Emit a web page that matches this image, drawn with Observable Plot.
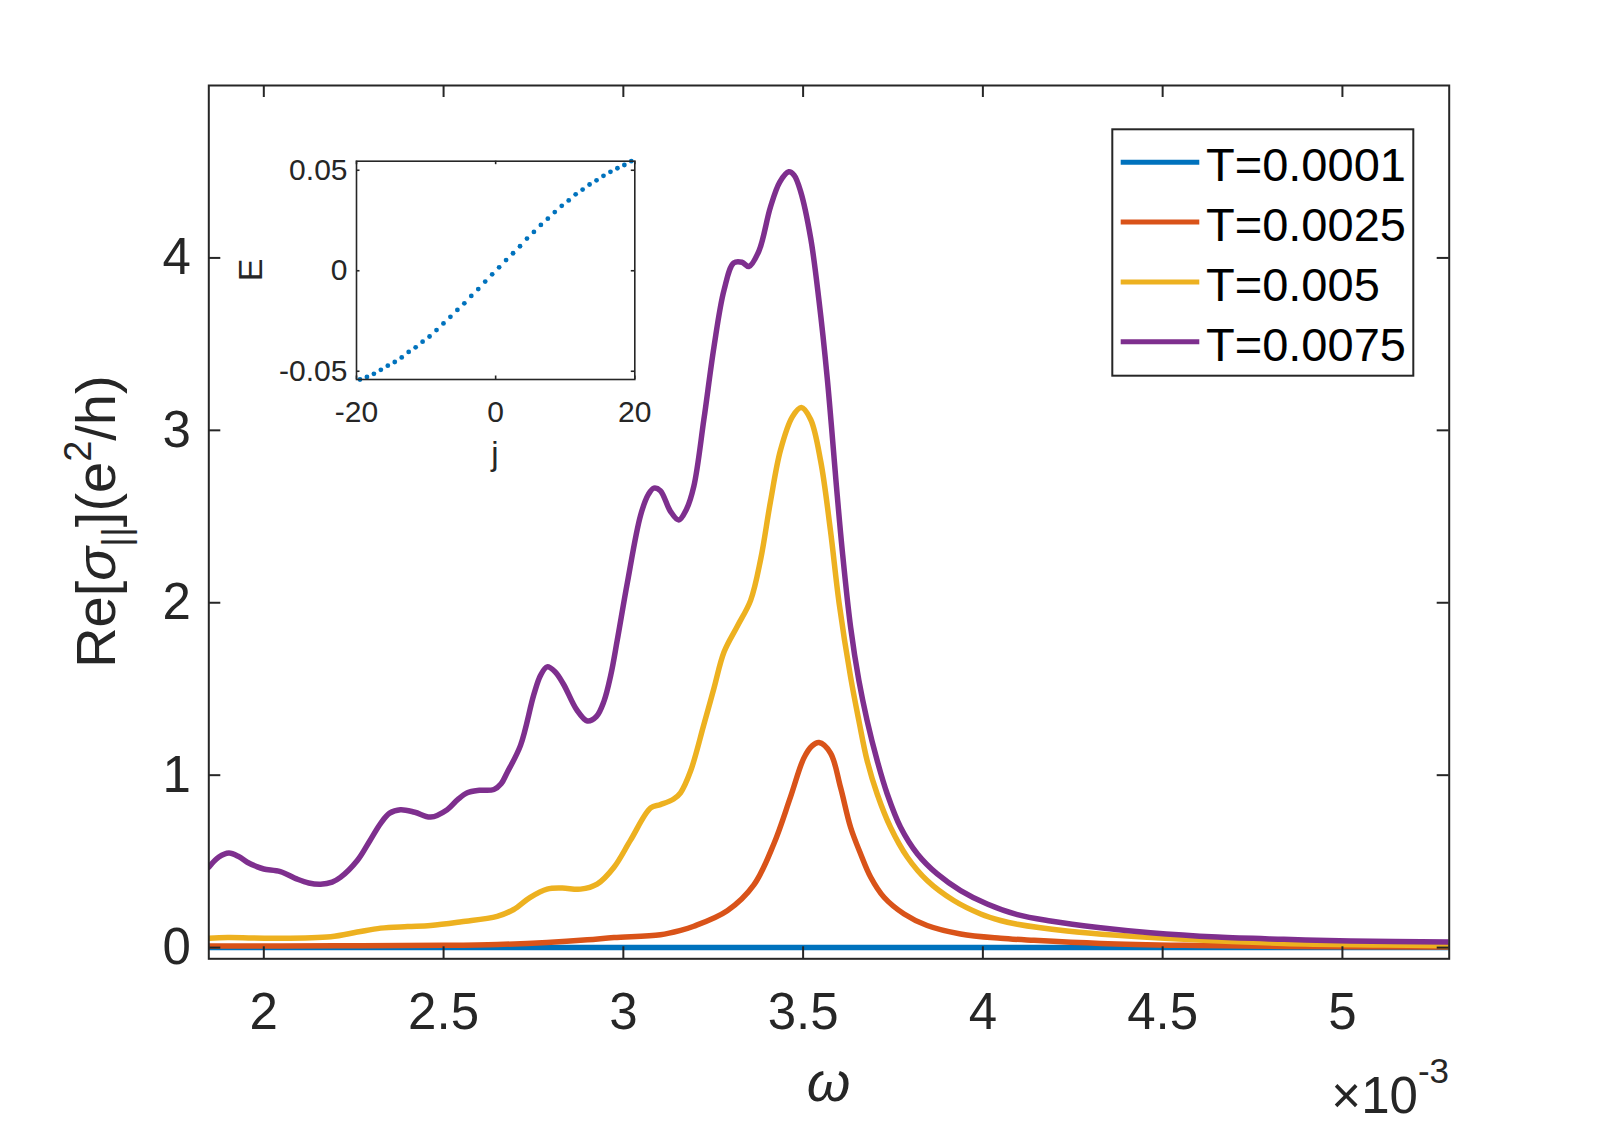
<!DOCTYPE html>
<html><head><meta charset="utf-8">
<script src="https://cdn.jsdelivr.net/npm/d3@7"></script>
<script src="https://cdn.jsdelivr.net/npm/@observablehq/plot@0.6"></script>
<style>
html,body{margin:0;padding:0;background:#fff;overflow:hidden}
#wrap{position:relative;width:1602px;height:1125px}
#wrap svg{position:absolute}
</style>
</head><body><div id="wrap"></div>
<script>
// ---------- data (omega in units of 1e-3) ----------
const seriesNames = ["T=0.0001", "T=0.0025", "T=0.005", "T=0.0075"];
const seriesColors = ["#0072BD", "#D95319", "#EDB120", "#7E2F8E"];

const omegaT1 = [1.847, 2.5, 3.0, 3.5, 4.0, 4.5, 5.0, 5.297];
const reT1    = [0.0,   0.0, 0.0, 0.001, 0.0, 0.0, 0.0, 0.0];

const omegaT2 = [1.847, 2.2, 2.5, 2.65, 2.788, 2.9, 2.974, 3.103, 3.159, 3.196, 3.289, 3.363, 3.419, 3.465, 3.502, 3.525, 3.544, 3.576, 3.604, 3.632, 3.66, 3.688, 3.725, 3.781, 3.845, 3.938, 4.049, 4.142, 4.327, 4.559, 4.837, 5.297];
const reT2    = [0.009, 0.010, 0.013, 0.018, 0.030, 0.045, 0.058, 0.075, 0.100, 0.124, 0.214, 0.364, 0.604, 0.874, 1.099, 1.170, 1.189, 1.129, 0.930, 0.698, 0.543, 0.408, 0.292, 0.195, 0.128, 0.079, 0.054, 0.042, 0.024, 0.013, 0.007, 0.003];

const omegaT3 = [1.847, 1.9, 2.03, 2.186, 2.26, 2.325, 2.4, 2.464, 2.55, 2.649, 2.695, 2.74, 2.788, 2.83, 2.881, 2.927, 2.974, 3.02, 3.076, 3.103, 3.14, 3.159, 3.187, 3.224, 3.252, 3.28, 3.317, 3.354, 3.382, 3.409, 3.437, 3.47, 3.495, 3.521, 3.549, 3.576, 3.6, 3.632, 3.655, 3.678, 3.706, 3.743, 3.79, 3.845, 3.919, 3.994, 4.049, 4.096, 4.234, 4.373, 4.559, 4.837, 5.115, 5.297];
const reT3    = [0.054, 0.058, 0.054, 0.063, 0.090, 0.113, 0.122, 0.128, 0.150, 0.181, 0.221, 0.290, 0.339, 0.345, 0.339, 0.368, 0.466, 0.623, 0.810, 0.829, 0.862, 0.898, 1.024, 1.294, 1.504, 1.714, 1.864, 2.014, 2.253, 2.584, 2.884, 3.078, 3.132, 3.063, 2.820, 2.420, 2.000, 1.570, 1.317, 1.085, 0.891, 0.698, 0.524, 0.389, 0.273, 0.195, 0.157, 0.135, 0.096, 0.071, 0.048, 0.024, 0.015, 0.010];

const omegaT4 = [1.847, 1.875, 1.903, 1.93, 1.954, 1.98, 2.0, 2.046, 2.093, 2.125, 2.158, 2.19, 2.213, 2.26, 2.295, 2.325, 2.35, 2.38, 2.42, 2.464, 2.51, 2.54, 2.566, 2.6, 2.64, 2.66, 2.677, 2.714, 2.751, 2.77, 2.788, 2.81, 2.834, 2.87, 2.9, 2.925, 2.946, 2.965, 2.983, 3.011, 3.048, 3.07, 3.085, 3.103, 3.131, 3.154, 3.175, 3.196, 3.224, 3.252, 3.28, 3.307, 3.33, 3.349, 3.377, 3.409, 3.435, 3.46, 3.475, 3.493, 3.521, 3.544, 3.567, 3.595, 3.609, 3.632, 3.655, 3.678, 3.706, 3.734, 3.771, 3.818, 3.873, 3.938, 4.012, 4.096, 4.188, 4.327, 4.466, 4.652, 4.837, 5.023, 5.297];
const reT4    = [0.466, 0.525, 0.548, 0.528, 0.495, 0.470, 0.456, 0.441, 0.397, 0.375, 0.368, 0.380, 0.407, 0.505, 0.620, 0.721, 0.780, 0.800, 0.785, 0.757, 0.800, 0.860, 0.898, 0.912, 0.917, 0.950, 1.016, 1.173, 1.467, 1.580, 1.628, 1.600, 1.526, 1.380, 1.314, 1.340, 1.428, 1.580, 1.782, 2.115, 2.508, 2.630, 2.665, 2.650, 2.530, 2.480, 2.540, 2.675, 3.063, 3.483, 3.813, 3.971, 3.975, 3.950, 4.040, 4.294, 4.440, 4.500, 4.480, 4.386, 4.115, 3.755, 3.305, 2.620, 2.300, 1.860, 1.550, 1.317, 1.085, 0.891, 0.698, 0.543, 0.427, 0.331, 0.253, 0.191, 0.154, 0.115, 0.086, 0.061, 0.048, 0.038, 0.033];

const xTicks = [2, 2.5, 3, 3.5, 4, 4.5, 5];
const yTicks = [0, 1, 2, 3, 4];
const xDomain = [1.847, 5.297];
const yDomain = [-0.065, 5.0];

// inset: E(j)
const insetJ = [-19.5,-18.5,-17.5,-16.5,-15.5,-14.5,-13.5,-12.5,-11.5,-10.5,-9.5,-8.5,-7.5,-6.5,-5.5,-4.5,-3.5,-2.5,-1.5,-0.5,0.5,1.5,2.5,3.5,4.5,5.5,6.5,7.5,8.5,9.5,10.5,11.5,12.5,13.5,14.5,15.5,16.5,17.5,18.5,19.5];
const insetE = [-0.0541,-0.0528,-0.0513,-0.0493,-0.0472,-0.0454,-0.0431,-0.0404,-0.0381,-0.0353,-0.0327,-0.0295,-0.0262,-0.0229,-0.0195,-0.0162,-0.0125,-0.0091,-0.0054,-0.0018,0.0017,0.0053,0.0087,0.0122,0.0160,0.0193,0.0228,0.0259,0.0292,0.0323,0.0350,0.0380,0.0404,0.0429,0.0450,0.0472,0.0492,0.0510,0.0526,0.0545];
const insetXTicks = [-20, 0, 20];
const insetYTicks = [-0.05, 0, 0.05];

// ---------- build ----------
const FONT = "'Liberation Sans', Arial, Helvetica, sans-serif";
const INK = "#262626";
const omegas = [omegaT1, omegaT2, omegaT3, omegaT4];
const values = [reT1, reT2, reT3, reT4];
const series = seriesNames.map((name, i) => ({
  name, color: seriesColors[i],
  rows: omegas[i].map((w, k) => ({omega: w, re: values[i][k]}))
}));

const W = 1602, H = 1125, ML = 208.3, MR = 153.3, MT = 85, MB = 166.7;
const plotW = W - ML - MR, plotH = H - MT - MB;
const fmt = d => String(d);

const main = Plot.plot({
  width: W, height: H,
  marginLeft: ML, marginRight: MR, marginTop: MT, marginBottom: MB,
  style: {background: "transparent", fontFamily: FONT, color: INK},
  x: {domain: xDomain, axis: null},
  y: {domain: yDomain, axis: null},
  marks: [
    ...series.map(s => Plot.line(s.rows, {x: "omega", y: "re", stroke: s.color, strokeWidth: 5.5, curve: "catmull-rom", clip: true})),
    Plot.frame({stroke: INK, strokeWidth: 2}),
    Plot.tickX(xTicks, {x: d => d, insetTop: plotH - 12, stroke: INK, strokeWidth: 2}),
    Plot.tickX(xTicks, {x: d => d, insetBottom: plotH - 12, stroke: INK, strokeWidth: 2}),
    Plot.tickY(yTicks, {y: d => d, insetRight: plotW - 12, stroke: INK, strokeWidth: 2}),
    Plot.tickY(yTicks, {y: d => d, insetLeft: plotW - 12, stroke: INK, strokeWidth: 2}),
    Plot.axisX(xTicks, {anchor: "bottom", tickSize: 0, tickPadding: 34, fontSize: 51, tickFormat: fmt, label: null, fill: INK}),
    Plot.axisY(yTicks, {anchor: "left", tickSize: 0, tickPadding: 18, fontSize: 51, tickFormat: fmt, label: null, fill: INK})
  ]
});
main.style.left = "0px"; main.style.top = "0px";
document.getElementById("wrap").appendChild(main);

const ms = d3.select(main);
// y label
const yl = ms.append("text")
  .attr("transform", "translate(115,521.6) rotate(-90)")
  .attr("text-anchor", "middle").attr("font-size", 56).attr("fill", INK).attr("font-family", FONT);
yl.append("tspan").text("Re[");
yl.append("tspan").attr("font-style", "italic").text("σ");
yl.append("tspan").attr("font-size", 38).attr("dy", 14).text("||");
yl.append("tspan").attr("dy", -14).text("](e");
yl.append("tspan").attr("font-size", 38).attr("dy", -24).text("2");
yl.append("tspan").attr("dy", 24).text("/h)");
// x label
ms.append("text").attr("x", 828.5).attr("y", 1101).attr("text-anchor", "middle")
  .attr("font-size", 56).attr("font-style", "italic").attr("fill", INK).attr("font-family", FONT).text("ω");
// exponent
const ex = ms.append("text").attr("x", 1449).attr("y", 1113).attr("text-anchor", "end")
  .attr("font-size", 51).attr("fill", INK).attr("font-family", FONT);
ex.append("tspan").text("×10");
ex.append("tspan").attr("font-size", 35).attr("dy", -30).text("-3");

// legend
const lg = ms.append("g").attr("font-family", FONT).attr("text-anchor", "start");
lg.append("rect").attr("x", 1112.3).attr("y", 129.3).attr("width", 301).attr("height", 246.4)
  .attr("fill", "white").attr("stroke", INK).attr("stroke-width", 2);
series.forEach((s, i) => {
  const yy = 162.3 + i * 59.8;
  lg.append("line").attr("x1", 1120.7).attr("x2", 1199.3).attr("y1", yy).attr("y2", yy)
    .attr("stroke", s.color).attr("stroke-width", 5);
  lg.append("text").attr("x", 1206).attr("y", yy + 19).attr("text-anchor", "start")
    .attr("font-size", 47).attr("fill", "#000").text(s.name);
});

// ---------- inset ----------
const IW = 460, IH = 360, IL = 156, IR = 25.7, IT = 30.7, IB = 111;
const ipW = IW - IL - IR, ipH = IH - IT - IB;
const insetRows = insetJ.map((j, k) => ({j, E: insetE[k]}));
const inset = Plot.plot({
  width: IW, height: IH, marginLeft: IL, marginRight: IR, marginTop: IT, marginBottom: IB,
  style: {background: "transparent", fontFamily: FONT, color: INK},
  x: {domain: [-20, 20], axis: null},
  y: {domain: d3.extent(insetE), axis: null},
  marks: [
    Plot.frame({fill: "white", stroke: "none"}),
    Plot.dot(insetRows, {x: "j", y: "E", r: 2.4, fill: seriesColors[0], stroke: "none"}),
    Plot.frame({stroke: INK, strokeWidth: 1.6}),
    Plot.tickX(insetXTicks, {x: d => d, insetTop: ipH - 3.5, stroke: INK, strokeWidth: 1.6}),
    Plot.tickX(insetXTicks, {x: d => d, insetBottom: ipH - 3.5, stroke: INK, strokeWidth: 1.6}),
    Plot.tickY(insetYTicks, {y: d => d, insetRight: ipW - 3.5, stroke: INK, strokeWidth: 1.6}),
    Plot.tickY(insetYTicks, {y: d => d, insetLeft: ipW - 3.5, stroke: INK, strokeWidth: 1.6}),
    Plot.axisX(insetXTicks, {anchor: "bottom", tickSize: 0, tickPadding: 21, fontSize: 30, tickFormat: fmt, label: null, fill: INK}),
    Plot.axisY(insetYTicks, {anchor: "left", tickSize: 0, tickPadding: 9, fontSize: 30, tickFormat: fmt, label: null, fill: INK})
  ]
});
inset.style.left = "200px"; inset.style.top = "130px";
document.getElementById("wrap").appendChild(inset);
const is = d3.select(inset);
is.append("text").attr("x", 295).attr("y", 334.5).attr("text-anchor", "middle")
  .attr("font-size", 33).attr("fill", INK).attr("font-family", FONT).text("j");
is.append("text").attr("transform", "translate(61.7,140) rotate(-90)").attr("text-anchor", "middle")
  .attr("font-size", 34).attr("fill", INK).attr("font-family", FONT).text("E");
</script></body></html>
